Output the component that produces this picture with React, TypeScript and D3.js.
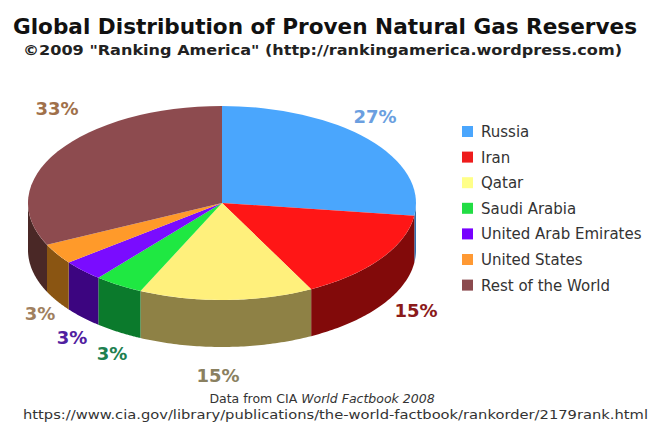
import React from "react";
import * as d3 from "d3";

const categories = [
  "Russia",
  "Iran",
  "Qatar",
  "Saudi Arabia",
  "United Arab Emirates",
  "United States",
  "Rest of the World",
];
const shares = [27.1, 15.3, 14.5, 4.1, 3.5, 3.4, 32.1];
const valueLabels = ["27%", "15%", "15%", "3%", "3%", "3%", "33%"];
const topColors = ["#4aa6fd", "#ff1616", "#fff07c", "#1fe842", "#7a0cff", "#ff9a2a", "#8d4b4f"];
const sideColors = ["#2f6fb0", "#820a0a", "#8e8145", "#0b7a2c", "#3c0580", "#8a5512", "#4a2826"];
const legendColors = ["#4aa6fd", "#ee1c1c", "#ffff88", "#22dd44", "#7700ff", "#ff9933", "#8b4a4e"];
const labelColors = ["#6b9fe0", "#8b1a1a", "#8a8060", "#208050", "#5020a0", "#a08060", "#a0704a"];

const W = 662;
const H = 426;
const cx = 222;
const cy = 203;
const rx = 194;
const ry = 97;
const depth = 47;

// label anchor positions (centre of text) for each slice
const labelPos: [number, number][] = [
  [375, 116],
  [416, 310],
  [218, 375],
  [112, 353],
  [72, 337],
  [40, 313],
  [57, 108],
];

export default function App() {
  const pie = d3
    .pie<number>()
    .sort(null)
    .value((d) => d)
    .startAngle(0)
    .endAngle(2 * Math.PI);
  const arcs = pie(shares);

  const arcGen = d3.arc<any>().innerRadius(0).outerRadius(rx);
  const px = (a: number) => cx + rx * Math.sin(a);
  const py = (a: number) => cy - ry * Math.cos(a);
  const line = d3.line<[number, number]>();

  const sides = arcs.map((a, i) => {
    const s = Math.max(a.startAngle, Math.PI / 2);
    const e = Math.min(a.endAngle, (3 * Math.PI) / 2);
    if (e <= s) return null;
    const n = 60;
    const top: [number, number][] = d3.range(n + 1).map((k) => {
      const t = s + ((e - s) * k) / n;
      return [px(t), py(t)];
    });
    const bottom: [number, number][] = top
      .slice()
      .reverse()
      .map(([x, y]) => [x, y + depth]);
    const d = line([...top, ...bottom]) + "Z";
    return <path key={"s" + i} d={d} fill={sideColors[i]} />;
  });

  const sans = "'DejaVu Sans', Verdana, sans-serif";

  return (
    <svg
      width={W}
      height={H}
      viewBox={`0 0 ${W} ${H}`}
      style={{ position: "absolute", left: 0, top: 0, display: "block", background: "#fff" }}
    >
      <rect x={0} y={0} width={W} height={H} fill="#fff" />
      <text
        x={13}
        y={34}
        fontFamily={sans}
        fontWeight="bold"
        fontSize={20.5}
        fill="#111"
        textLength={624}
        lengthAdjust="spacingAndGlyphs"
      >
        Global Distribution of Proven Natural Gas Reserves
      </text>
      <text
        x={23}
        y={55}
        fontFamily={sans}
        fontWeight="bold"
        fontSize={14}
        fill="#222"
        textLength={599}
        lengthAdjust="spacingAndGlyphs"
      >
        ©2009 "Ranking America" (http://rankingamerica.wordpress.com)
      </text>

      <g>{sides}</g>
      <g transform={`translate(${cx},${cy}) scale(1,${ry / rx})`}>
        {arcs.map((a, i) => (
          <path key={"t" + i} d={arcGen(a) as string} fill={topColors[i]} />
        ))}
      </g>

      {arcs.map((a, i) => (
        <text
          key={"l" + i}
          x={labelPos[i][0]}
          y={labelPos[i][1]}
          textAnchor="middle"
          dominantBaseline="central"
          fontFamily={sans}
          fontWeight="bold"
          fontSize={18}
          fill={labelColors[i]}
        >
          {valueLabels[i]}
        </text>
      ))}

      {categories.map((c, i) => {
        const y = 132 + i * 25.6;
        return (
          <g key={"g" + i}>
            <rect x={462} y={y - 6} width={11} height={11} fill={legendColors[i]} />
            <text
              x={481}
              y={y}
              dominantBaseline="central"
              fontFamily={sans}
              fontSize={15}
              fill="#333"
            >
              {c}
            </text>
          </g>
        );
      })}

      <text x={322} y={403} textAnchor="middle" fontFamily={sans} fontSize={12.5} fill="#333">
        Data from CIA <tspan fontStyle="italic">World Factbook 2008</tspan>
      </text>
      <text
        x={23}
        y={419}
        fontFamily={sans}
        fontSize={12.5}
        fill="#333"
        textLength={625}
        lengthAdjust="spacingAndGlyphs"
      >
        https://www.cia.gov/library/publications/the-world-factbook/rankorder/2179rank.html
      </text>
    </svg>
  );
}
